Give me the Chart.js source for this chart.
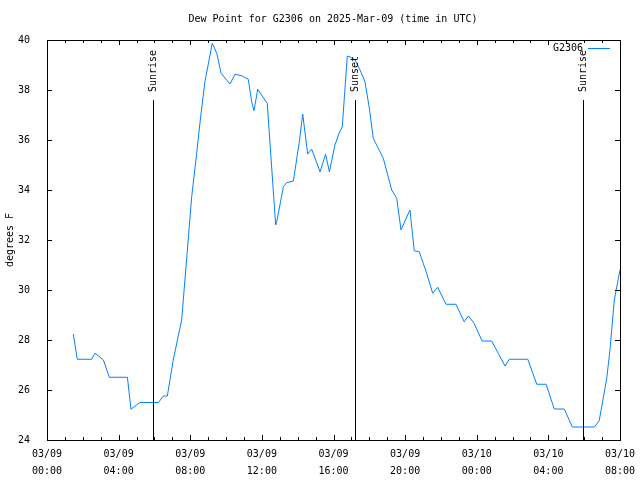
<!DOCTYPE html>
<html>
<head>
<meta charset="utf-8">
<script src="https://cdn.jsdelivr.net/npm/chart.js@4.4.1/dist/chart.umd.min.js"></script>
<style>
html,body{margin:0;padding:0;background:#fff;}
#wrap{width:640px;height:480px;position:relative;}
</style>
</head>
<body>
<div id="wrap"><canvas id="c" width="640" height="480"></canvas></div>
<script>
// Hours since 2025-03-09 00:00 UTC
const hours = [1.47,1.69,2.49,2.68,2.9,3.15,3.48,4.49,4.69,5.0,5.19,6.22,6.5,6.72,7.05,7.52,7.84,8.08,8.36,8.58,8.82,9.23,9.48,9.72,10.22,10.5,10.87,11.24,11.43,11.56,11.77,12.17,12.3,12.77,12.85,13.2,13.38,13.76,14.09,14.28,14.56,14.78,15.25,15.56,15.77,16.08,16.31,16.49,16.77,17.02,17.2,17.48,17.76,18.0,18.22,18.5,18.78,19.25,19.53,19.77,20.27,20.51,20.79,21.2,21.54,21.82,22.28,22.84,23.3,23.53,23.85,24.3,24.83,25.58,25.82,26.85,27.35,27.87,28.33,28.89,29.34,30.57,30.84,31.26,31.44,31.68,32.0];
const dewPoint = [28.24,27.23,27.23,27.47,27.35,27.2,26.51,26.51,25.23,25.4,25.5,25.5,25.76,25.76,27.2,28.8,31.6,33.73,35.47,36.93,38.33,39.87,39.47,38.67,38.24,38.63,38.57,38.43,37.53,37.17,38.03,37.6,37.47,32.6,32.8,34.13,34.29,34.36,35.93,37.04,35.44,35.63,34.73,35.43,34.73,35.8,36.27,36.53,39.36,39.29,39.2,38.8,38.33,37.27,36.07,35.67,35.27,34.0,33.67,32.4,33.2,31.57,31.53,30.67,29.87,30.11,29.43,29.43,28.73,28.96,28.67,27.96,27.96,26.96,27.23,27.23,26.23,26.23,25.24,25.24,24.52,24.52,24.77,26.47,27.6,29.6,30.8];
const dayLabels = ['03/09','03/10'];
const eventLabels = ['Sunrise','Sunset','Sunrise'];
const eventHours = [5.92, 17.2, 29.93];
const seriesName = 'G2306';
const titleText = 'Dew Point for G2306 on 2025-Mar-09 (time in UTC)';
const yTitle = 'degrees F';

const FONT = '"DejaVu Sans Mono", monospace';
const LINE = 'rgb(0,128,255)';

const pts = hours.map((h,i)=>({x:h,y:dewPoint[i]}));

const overlay = {
  id:'overlay',
  afterDraw(chart){
    const ctx = chart.ctx, a = chart.chartArea, xs = chart.scales.x, ys = chart.scales.y;
    ctx.save();
    ctx.strokeStyle = '#000'; ctx.lineWidth = 1;
    // ticks
    ctx.beginPath();
    for(let h=0; h<=32; h++){
      const px = Math.round(xs.getPixelForValue(h))+0.5;
      const len = (h%4===0)?5:3;
      ctx.moveTo(px, a.bottom); ctx.lineTo(px, a.bottom-len);
      ctx.moveTo(px, a.top); ctx.lineTo(px, a.top+len);
    }
    for(let v=24; v<=40; v+=2){
      const py = Math.round(ys.getPixelForValue(v))+0.5;
      ctx.moveTo(a.left, py); ctx.lineTo(a.left+5, py);
      ctx.moveTo(a.right, py); ctx.lineTo(a.right-5, py);
    }
    ctx.stroke();
    // event lines
    ctx.font = '10px '+FONT; ctx.fillStyle = '#000';
    eventHours.forEach((h,i)=>{
      const px = Math.round(xs.getPixelForValue(h))+0.5;
      ctx.beginPath(); ctx.moveTo(px, a.top+60); ctx.lineTo(px, a.bottom); ctx.stroke();
      ctx.save();
      ctx.translate(px, a.top+52);
      ctx.rotate(-Math.PI/2);
      ctx.textAlign='left'; ctx.textBaseline='middle';
      ctx.fillText(eventLabels[i], 0, 0);
      ctx.restore();
    });
    // box
    ctx.strokeRect(Math.round(a.left)+0.5, Math.round(a.top)+0.5, Math.round(a.right-a.left), Math.round(a.bottom-a.top));
    // title
    ctx.textAlign='center'; ctx.textBaseline='middle';
    ctx.fillText(titleText, 333, 19);
    // y label
    ctx.save(); ctx.translate(10, 240); ctx.rotate(-Math.PI/2);
    ctx.fillText(yTitle, 0, 0); ctx.restore();
    // legend
    ctx.textAlign='right';
    ctx.fillText(seriesName, 583, 48);
    ctx.strokeStyle = LINE;
    ctx.beginPath(); ctx.moveTo(588, 48.5); ctx.lineTo(610, 48.5); ctx.stroke();
    ctx.restore();
  }
};

new Chart(document.getElementById('c'), {
  type:'line',
  data:{datasets:[{label:seriesName, data:pts, borderColor:LINE, borderWidth:1, pointRadius:0, tension:0, fill:false}]},
  options:{
    responsive:false, animation:false, devicePixelRatio:1,
    layout:{padding:{top:40,right:20,left:0,bottom:0}},
    plugins:{legend:{display:false}, title:{display:false}, tooltip:{enabled:false}},
    scales:{
      x:{type:'linear', min:0, max:32,
        afterFit(s){ s.height = 40; },
        grid:{display:false}, border:{display:false},
        ticks:{stepSize:4, autoSkip:false, maxRotation:0, padding:-2, color:'#000', font:{family:FONT,size:10,lineHeight:1.7}, 
          callback(v){ const d = dayLabels[Math.floor(v/24)] || dayLabels[1]; const hh = String(v%24).padStart(2,'0'); return [d, hh+':00']; }}
      },
      y:{min:24, max:40,
        afterFit(s){ s.width = 47; },
        grid:{display:false}, border:{display:false},
        ticks:{stepSize:2, padding:9, color:'#000', font:{family:FONT,size:10}}
      }
    }
  },
  plugins:[overlay]
});
</script>
</body>
</html>
